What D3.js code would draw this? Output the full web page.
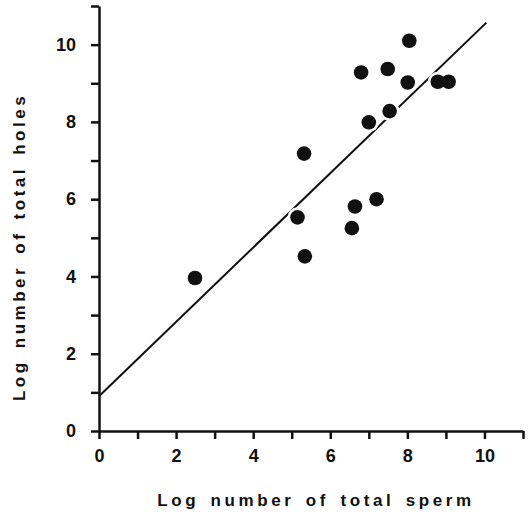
<!DOCTYPE html>
<html>
<head>
<meta charset="utf-8">
<script src="https://cdn.jsdelivr.net/npm/d3@7"></script>
<style>
  body { margin: 0; background: #fff; }
  text { font-family: "Liberation Sans", Arial, Helvetica, sans-serif; font-weight: bold; fill: #111; }
</style>
</head>
<body>
<div id="chart"></div>
<script>
// log total sperm vs log total holes
var sperm = [2.49, 5.15, 5.32, 5.34, 6.56, 6.64, 6.8, 7.0, 7.2, 7.49, 7.54, 8.01, 8.05, 8.79, 9.07];
var holes = [3.96, 5.53, 7.18, 4.52, 5.25, 5.81, 9.28, 7.99, 6.0, 9.37, 8.28, 9.02, 10.1, 9.04, 9.04];
var fitLine = [[0, 0.9], [10.05, 10.57]];
var xTicks = [0, 2, 4, 6, 8, 10];
var yTicks = [0, 2, 4, 6, 8, 10];

var width = 528, height = 518;
var svg = d3.select("#chart").append("svg")
    .attr("width", width)
    .attr("height", height);

var x = d3.scaleLinear().domain([0, 11]).range([99, 523]);
var y = d3.scaleLinear().domain([0, 11]).range([431, 6]);

// regression line
var line = d3.line()
    .x(function (d) { return x(d[0]); })
    .y(function (d) { return y(d[1]); });

svg.append("path")
    .attr("d", line(fitLine))
    .attr("fill", "none")
    .attr("stroke", "#111")
    .attr("stroke-width", 2);

var idx = d3.range(sperm.length);

// white halo breaks the line around the points
svg.append("g").selectAll("circle")
    .data(idx)
    .enter().append("circle")
    .attr("cx", function (i) { return x(sperm[i]); })
    .attr("cy", function (i) { return y(holes[i]); })
    .attr("r", 10)
    .attr("fill", "#fff");

svg.append("g").selectAll("circle")
    .data(idx)
    .enter().append("circle")
    .attr("cx", function (i) { return x(sperm[i]); })
    .attr("cy", function (i) { return y(holes[i]); })
    .attr("r", 7.3)
    .attr("fill", "#111");

// axes
var xAxis = d3.axisBottom(x)
    .tickValues(d3.range(0, 12))
    .tickSize(8)
    .tickSizeOuter(0)
    .tickFormat(function (d) { return xTicks.indexOf(d) >= 0 ? d : ""; });

var yAxis = d3.axisLeft(y)
    .tickValues(d3.range(0, 12))
    .tickSize(8)
    .tickSizeOuter(0)
    .tickFormat(function (d) { return yTicks.indexOf(d) >= 0 ? d : ""; });

var gx = svg.append("g").attr("transform", "translate(0," + y(0) + ")").call(xAxis);
var gy = svg.append("g").attr("transform", "translate(" + x(0) + ",0)").call(yAxis);

[gx, gy].forEach(function (g) {
    g.select(".domain").attr("stroke", "#111").attr("stroke-width", 2.5);
    g.selectAll(".tick line").attr("stroke", "#111").attr("stroke-width", 2.5);
    g.selectAll(".tick text")
        .style("font-size", "18px")
        .style("font-family", "'Liberation Sans', Arial, sans-serif")
        .style("font-weight", "bold")
        .attr("fill", "#111");
});
gx.selectAll(".tick text").attr("y", 18).attr("dy", "0.71em");
gy.selectAll(".tick text").attr("x", -23);

// axis titles
svg.append("text")
    .attr("x", 316)
    .attr("y", 506)
    .attr("text-anchor", "middle")
    .style("font-size", "17px")
    .style("letter-spacing", "3.6px")
    .style("word-spacing", "3px")
    .text("Log number of total sperm");

svg.append("text")
    .attr("transform", "translate(25,247) rotate(-90)")
    .attr("text-anchor", "middle")
    .style("font-size", "17px")
    .style("letter-spacing", "3.5px")
    .style("word-spacing", "3px")
    .text("Log number of total holes");
</script>
</body>
</html>
